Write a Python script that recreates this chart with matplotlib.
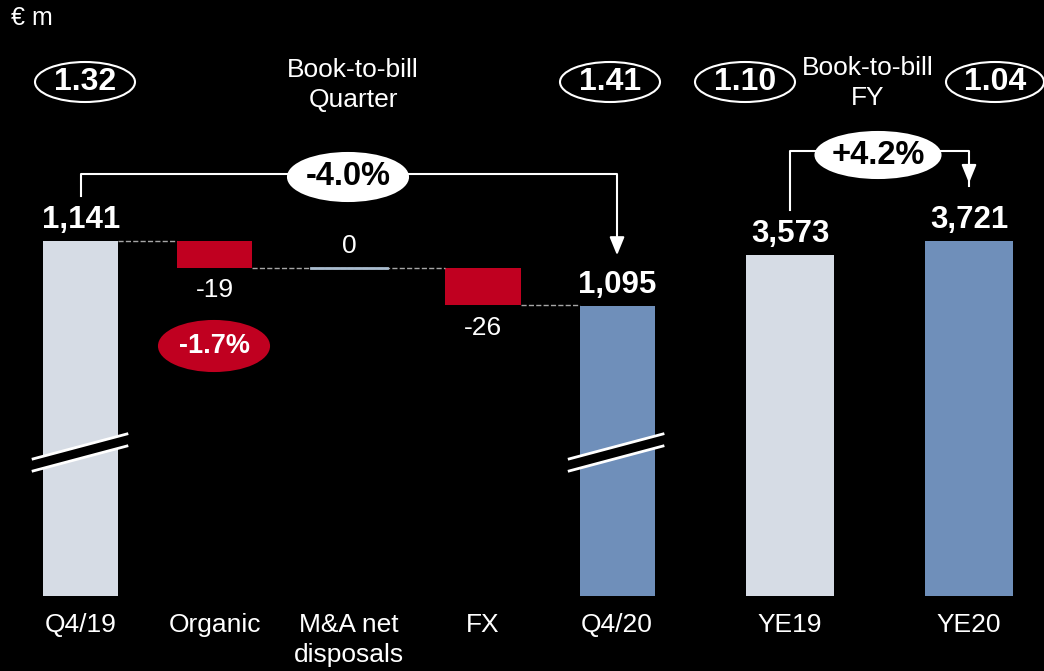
import matplotlib.pyplot as plt
from matplotlib.patches import Ellipse, Polygon

plt.rcParams['font.family'] = ['Liberation Sans', 'DejaVu Sans']

# data
q_labels = ['Q4/19', 'Organic', 'M&A net\ndisposals', 'FX', 'Q4/20']
q_start = 1141
q_steps = [-19, 0, -26]
q_end = 1095
fy_labels = ['YE19', 'YE20']
fy_values = [3573, 3721]
btb_quarter = ['1.32', '1.41']
btb_fy = ['1.10', '1.04']
q_growth = '-4.0%'
organic_growth = '-1.7%'
fy_growth = '+4.2%'

LIGHT = '#D6DCE5'
BLUE = '#6F8FBA'
RED = '#C00020'
ZERO = '#A9BCCF'

W, H = 1044, 671
fig = plt.figure(figsize=(W / 100, H / 100), dpi=100, facecolor='black')


def fx(px):
    return px / W


def fy(py):
    return 1 - py / H


# ---- quarter waterfall (broken axis) ----
ax = fig.add_axes([0, fy(596), fx(700), 596 / H])
ax.set_facecolor('black')
ax.set_xlim(-0.604, 4.619)
ax.set_ylim(890.6, 1311)
bw = 0.56

ax.bar(0, q_start, width=bw, color=LIGHT)
level = q_start
tops = [q_start]
for i, step in enumerate(q_steps, start=1):
    if step == 0:
        ax.plot([i - bw / 2, i + bw / 2], [level, level], color=ZERO, lw=2, zorder=3)
    else:
        ax.bar(i, step, bottom=level, width=bw, color=RED)
    level += step
    tops.append(level)
ax.bar(4, q_end, width=bw, color=BLUE)

# dashed connectors
ax.plot([0 + bw / 2, 1 - bw / 2], [q_start, q_start], ls='--', color='#A6A6A6', lw=1)
ax.plot([1 + bw / 2, 3 - bw / 2], [tops[1], tops[1]], ls='--', color='#A6A6A6', lw=1)
ax.plot([3 + bw / 2, 4 - bw / 2], [tops[3], tops[3]], ls='--', color='#A6A6A6', lw=1)


# value labels
def label(ax, x, y, txt, dy, bold=False, size=19):
    ax.annotate(txt, (x, y), xytext=(0, dy), textcoords='offset points',
                ha='center', va='center', color='white', fontsize=size,
                fontweight='bold' if bold else 'normal', annotation_clip=False)


label(ax, 0, q_start, f'{q_start:,}', 15, bold=True, size=22.5)
label(ax, 1, tops[1], f'{q_steps[0]}', -16)
label(ax, 2, tops[2], f'{q_steps[1]}', 16)
label(ax, 3, tops[3], f'{q_steps[2]}', -17)
label(ax, 4, q_end, f'{q_end:,}', 15, bold=True, size=22.5)

# axis break marks
for xc in (0, 4):
    x0, x1 = xc - 0.357, xc + 0.343
    ax.add_patch(Polygon([(x0, 987.3), (x1, 1004.9), (x1, 996.4), (x0, 978.8)],
                         closed=True, facecolor='black', edgecolor='none', zorder=3, clip_on=False))
    ax.plot([x0, x1], [987.3, 1004.9], color='white', lw=2, zorder=4, clip_on=False)
    ax.plot([x0, x1], [978.8, 996.4], color='white', lw=2, zorder=4, clip_on=False)

# growth bracket
ax.plot([0, 0, 4, 4], [1173, 1188, 1188, 1145], color='white', lw=1.5, clip_on=False)
ax.annotate('', xy=(4, 1129), xytext=(4, 1146),
            arrowprops=dict(arrowstyle='-|>,head_width=0.45,head_length=1.1', color='white', lw=1.5),
            annotation_clip=False)

ax.set_xticks(range(len(q_labels)), q_labels)
ax.tick_params(axis='x', length=0, pad=12, colors='white', labelsize=19)
for t in ax.get_xticklabels():
    t.set_linespacing(1.35)
ax.set_yticks([])
for s in ax.spines.values():
    s.set_visible(False)

# ---- full year ----
ax2 = fig.add_axes([fx(700), fy(596), fx(344), 596 / H])
ax2.set_facecolor('black')
ax2.set_xlim(-0.503, 1.419)
ax2.set_ylim(0, 6247)
bw2 = 0.49
ax2.bar(range(2), fy_values, width=bw2, color=[LIGHT, BLUE])
for i, v in enumerate(fy_values):
    ax2.annotate(f'{v:,}', (i, v), xytext=(0, 15), textcoords='offset points',
                 ha='center', va='center', color='white', fontsize=22.5, fontweight='bold')
ax2.set_xticks(range(2), fy_labels)
ax2.tick_params(axis='x', length=0, pad=12, colors='white', labelsize=19)
ax2.set_yticks([])
for s in ax2.spines.values():
    s.set_visible(False)

# FY bracket
ax2.plot([0, 0, 1, 1], [4050, 4660, 4660, 4300], color='white', lw=1.5, clip_on=False)
ax2.annotate('', xy=(1, 4300), xytext=(1, 4500),
             arrowprops=dict(arrowstyle='-|>,head_width=0.45,head_length=1.1', color='white', lw=1.5),
             annotation_clip=False)


# ---- ellipses & headers ----
def oval(cx, cy, w, h, txt, face, edge, tcolor, size):
    fig.patches.append(Ellipse((fx(cx), fy(cy)), w / W, h / H, transform=fig.transFigure,
                               facecolor=face, edgecolor=edge, lw=1.5, zorder=5))
    fig.text(fx(cx), fy(cy), txt, ha='center', va='center', color=tcolor,
             fontsize=size, fontweight='bold', zorder=6)


oval(85, 82, 100, 40, btb_quarter[0], 'black', 'white', 'white', 23)
oval(610, 82, 100, 40, btb_quarter[1], 'black', 'white', 'white', 23)
oval(745, 82, 100, 40, btb_fy[0], 'black', 'white', 'white', 23)
oval(995, 82, 98, 40, btb_fy[1], 'black', 'white', 'white', 23)
oval(348, 177, 120, 48, q_growth, 'white', 'white', 'black', 23.5)
oval(878, 155, 125, 46, fy_growth, 'white', 'white', 'black', 23.5)
oval(214, 346, 110, 50, organic_growth, RED, RED, 'white', 19.5)

fig.text(fx(353), fy(85), 'Book-to-bill\nQuarter', ha='center', va='center',
         color='white', fontsize=19, linespacing=1.3)
fig.text(fx(868), fy(83), 'Book-to-bill\nFY', ha='center', va='center',
         color='white', fontsize=19, linespacing=1.3)
fig.text(fx(11), fy(18), '€ m', ha='left', va='center', color='white', fontsize=18)

fig.savefig('out.png', dpi=100, facecolor='black')
